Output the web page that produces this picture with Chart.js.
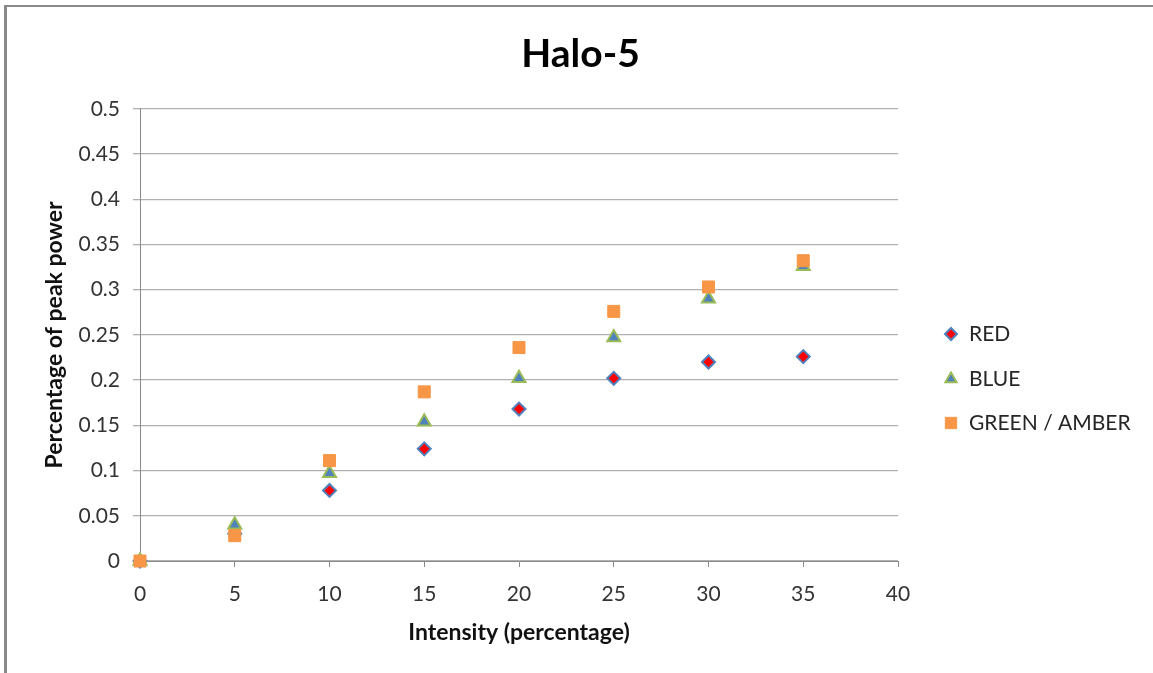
<!DOCTYPE html>
<html>
<head>
<meta charset="utf-8">
<script src="https://cdn.jsdelivr.net/npm/chart.js@4/dist/chart.umd.min.js"></script>
<style>
  html, body { margin: 0; padding: 0; background: #fff; }
  #wrap { position: relative; width: 1153px; height: 673px; overflow: hidden; }
  #frame { position: absolute; left: 4px; top: 5px; width: 1200px; height: 700px;
           border-top: 2px solid #8a8a8a; border-left: 3px solid #8a8a8a; pointer-events: none; }
  canvas { position: absolute; left: 0; top: 0; }
</style>
</head>
<body>
<div id="wrap">
  <canvas id="c" width="1153" height="673"></canvas>
  <div id="frame"></div>
</div>
<script>
const intensity = [0, 5, 10, 15, 20, 25, 30, 35];
const redValues = [0, 0.030, 0.078, 0.124, 0.168, 0.202, 0.220, 0.226];
const blueValues = [0, 0.040, 0.097, 0.154, 0.202, 0.247, 0.290, 0.326];
const greenAmberValues = [0, 0.028, 0.111, 0.187, 0.236, 0.276, 0.303, 0.332];
const seriesNames = ['RED', 'BLUE', 'GREEN / AMBER'];
const chartTitle = 'Halo-5';
const xTitle = 'Intensity (percentage)';
const yTitle = 'Percentage of peak power';

const FONT = 'Lato, "Open Sans", sans-serif';

function pts(vals) { return intensity.map((x, i) => ({ x: x, y: vals[i] })); }

const legendPlugin = {
  id: 'customLegend',
  afterDraw(chart) {
    const ctx = chart.ctx;
    const x0 = 951, textX = 969;
    const ys = [334, 379, 423];
    ctx.save();
    chart.data.datasets.forEach((ds, i) => {
      const y = ys[i];
      const opts = {
        pointStyle: ds.pointStyle,
        radius: ds.legendRadius,
        rotation: 0,
        borderWidth: ds.borderWidth
      };
      ctx.fillStyle = ds.backgroundColor;
      ctx.strokeStyle = ds.borderColor;
      ctx.lineWidth = ds.borderWidth;
      Chart.helpers.drawPoint(ctx, opts, x0, y);
      ctx.fillStyle = '#262626';
      ctx.font = '21px ' + FONT;
      ctx.textBaseline = 'middle';
      ctx.textAlign = 'left';
      ctx.fillText(ds.label, textX, y);
    });
    ctx.restore();
  }
};

new Chart(document.getElementById('c'), {
  type: 'scatter',
  data: {
    datasets: [
      { label: seriesNames[0], data: pts(redValues), pointStyle: 'rectRot', pointRadius: 6.5, legendRadius: 6,
        backgroundColor: '#FF0000', borderColor: '#4F81BD', borderWidth: 2, order: 3, clip: false },
      { label: seriesNames[1], data: pts(blueValues), pointStyle: 'triangle', pointRadius: 7.5, legendRadius: 6.5,
        backgroundColor: '#4F81BD', borderColor: '#9BBB59', borderWidth: 2, order: 2, clip: false },
      { label: seriesNames[2], data: pts(greenAmberValues), pointStyle: 'rect', pointRadius: 8.5, legendRadius: 8,
        backgroundColor: '#F79646', borderColor: '#F79646', borderWidth: 1, order: 1, clip: false }
    ]
  },
  options: {
    responsive: false,
    animation: false,
    events: [],
    layout: { padding: { left: 14, right: 6, top: 0, bottom: 10 } },
    plugins: {
      legend: { display: false },
      tooltip: { enabled: false },
      title: {
        display: true,
        text: chartTitle,
        color: '#000',
        font: { family: FONT, size: 39, weight: 'bold' },
        padding: { top: 31, bottom: 31 }
      }
    },
    scales: {
      x: {
        type: 'linear',
        min: 0, max: 40,
        ticks: { stepSize: 5, color: '#333', font: { family: FONT, size: 21 }, padding: 15, maxRotation: 0 },
        grid: { display: true, drawOnChartArea: false, drawTicks: true, tickLength: 6, color: '#8a8a8a', lineWidth: 1 },
        border: { display: true, color: '#8a8a8a', width: 1 },
        title: { display: true, text: xTitle, color: '#111', font: { family: FONT, size: 23, weight: 'bold' },
                 padding: { top: 0, bottom: 17 } },
        afterFit(s) { s.height = 102; }
      },
      y: {
        type: 'linear',
        position: 'left',
        min: 0, max: 0.5,
        ticks: { stepSize: 0.05, color: '#333', font: { family: FONT, size: 21 }, padding: 13,
                 callback: v => String(Math.round(v * 100) / 100) },
        grid: { display: true, drawOnChartArea: true, drawTicks: true, tickLength: 7, color: '#b0b0b0', lineWidth: 1.3 },
        border: { display: true, color: '#8a8a8a', width: 1 },
        title: { display: true, text: yTitle, color: '#111', font: { family: FONT, size: 23, weight: 'bold' },
                 padding: { top: 27, bottom: 0 } },
        afterFit(s) { s.width = 126; }
      },
      yRight: {
        type: 'linear',
        position: 'right',
        min: 0, max: 1,
        display: true,
        ticks: { display: false },
        grid: { display: false, drawTicks: false },
        border: { display: false },
        afterFit(s) { s.width = 249; }
      }
    }
  },
  plugins: [legendPlugin]
});
</script>
</body>
</html>
